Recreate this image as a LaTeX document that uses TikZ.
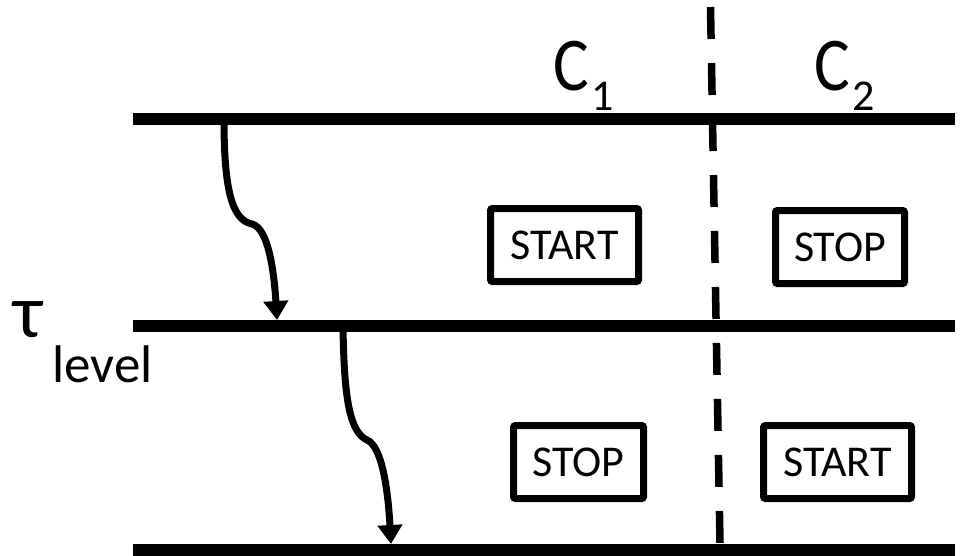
\documentclass[tikz,border=0pt]{standalone}
\usepackage{fontspec}
\setmainfont{Carlito}
\usetikzlibrary{arrows.meta}
\begin{document}
\begin{tikzpicture}[x=1pt,y=-1pt,
  hline/.style={line width=12pt},
  box/.style={draw,line width=7pt,minimum width=#1,minimum height=73pt,inner sep=0pt,rounded corners=2pt,font=\fontsize{44}{44}\selectfont},
  flow/.style={line width=7pt,-{Triangle[width=24pt,length=19pt]}},
  divider/.style={line width=7.5pt,dash pattern=on 32pt off 24pt},
  biglabel/.style={anchor=base west,inner sep=0pt,font=\fontsize{76}{76}\selectfont}]
\useasboundingbox (0,0) rectangle (961,555);
% level lines
\coordinate (L1a) at (133,119); \coordinate (L1b) at (955,119);
\coordinate (L2a) at (133,326); \coordinate (L2b) at (955,326);
\coordinate (L3a) at (133,550); \coordinate (L3b) at (955,550);
\draw[hline] (L1a) -- (L1b);
\draw[hline] (L2a) -- (L2b);
\draw[hline] (L3a) -- (L3b);
% divider
\coordinate (Dtop) at (710.5,7); \coordinate (Dbot) at (720,543);
\draw[divider] (Dtop) -- (Dbot);
% labels
\node[biglabel] (c1) at (553,90) {\scalebox{0.88}[1]{C}\kern3pt\raisebox{-20pt}{\fontsize{44}{44}\selectfont 1}};
\node[biglabel] (c2) at (814,90) {\scalebox{0.88}[1]{C}\kern3pt\raisebox{-20pt}{\fontsize{44}{44}\selectfont 2}};
\node[biglabel] (tau) at (13,337) {τ\kern10pt\raisebox{-45pt}{\fontsize{53}{53}\selectfont level}};
% boxes
\node[box=148pt] (start1) at (564.5,245) {START};
\node[box=129pt] (stop1) at (840,247) {STOP};
\node[box=130pt] (stop2) at (578.5,462) {STOP};
\node[box=148pt] (start2) at (837.5,462) {START};
% arrows
\coordinate (A1s) at (224,119); \coordinate (A1m) at (252,224); \coordinate (A1e) at (277,320);
\coordinate (A2s) at (343,326); \coordinate (A2m) at (367,440); \coordinate (A2e) at (391,544);
\draw[flow] (A1s) .. controls (224,190) and (232,220) .. (A1m) .. controls (268,228) and (274,270) .. (A1e);
\draw[flow] (A2s) .. controls (344,400) and (350,432) .. (A2m) .. controls (382,446) and (388,490) .. (A2e);
\end{tikzpicture}
\end{document}
